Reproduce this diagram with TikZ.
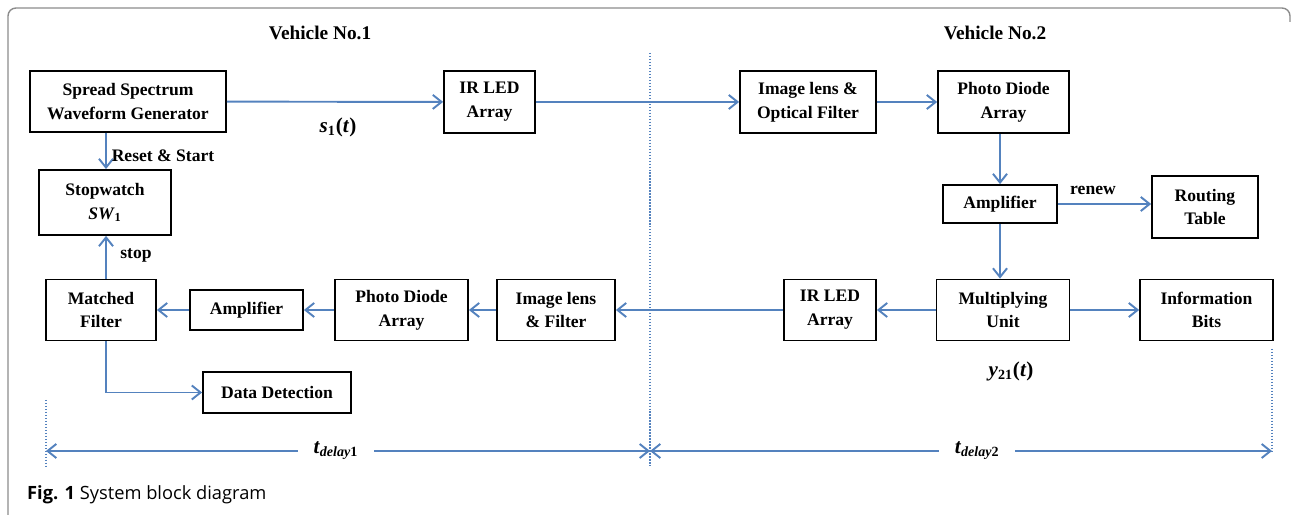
\documentclass[tikz,border=0pt]{standalone}
\usepackage{fontspec}
\setmainfont{Liberation Serif}
\newfontfamily\capfont{Open Sans}
\usepackage{xcolor}
\usetikzlibrary{positioning, arrows.meta, calc}

\definecolor{linkblue}{RGB}{84,130,190}
\definecolor{framegray}{RGB}{140,140,140}

\begin{document}
\begin{tikzpicture}[
    x=0.2mm, y=-0.2mm,
    >={Straight Barb[length=5pt,width=8pt]},
    block/.style={draw, line width=1pt, rectangle, align=center, inner sep=0pt, fill=white, font=\bfseries\fontsize{10}{13.5}\selectfont},
    flow/.style={draw=linkblue, line width=1.1pt, ->},
    guide/.style={draw=linkblue, densely dotted, line width=0.7pt},
    tag/.style={font=\bfseries\fontsize{10}{12}\selectfont},
    mathtag/.style={font=\bfseries\fontsize{12}{14}\selectfont}
]
    \useasboundingbox (0,0) rectangle (1292,515);

    % --- outer frame ---
    \draw[framegray, line width=0.8pt, rounded corners=1.6mm] (8,515) -- (8,8) -- (1290,8) -- (1290,22);

    % --- titles and guides ---
    \node[font=\bfseries\fontsize{11}{13}\selectfont] (veh1) at (320,33) {Vehicle No.1};
    \node[font=\bfseries\fontsize{11}{13}\selectfont] (veh2) at (995,33) {Vehicle No.2};
    \draw[guide] (650,53) -- (650,467);
    \draw[guide] (46,400) -- (46,467);
    \draw[guide] (1272,349) -- (1272,451);

    % --- VEHICLE 1: transmit side ---
    \node[block, minimum width=39.2mm, minimum height=12.2mm] (spread) at (128,101.5) {Spread Spectrum\\Waveform Generator};
    \node[block, minimum width=18.2mm, minimum height=12.4mm] (irA) at (489.5,102) {IR LED\\Array};
    \node[block, minimum width=26.4mm, minimum height=13mm] (stopw) at (105,202.5) {Stopwatch\\\textit{SW}\textsubscript{1}};
    \coordinate (col) at (106,0);

    % --- VEHICLE 2: receive side ---
    \node[block, minimum width=27.2mm, minimum height=12.4mm] (lensA) at (808,102) {Image lens \&\\Optical Filter};
    \node[block, minimum width=26.2mm, minimum height=12.4mm] (pdA) at (1003.5,102) {Photo Diode\\Array};
    \node[block, minimum width=22.8mm, minimum height=7.6mm] (ampA) at (1000,204) {Amplifier};
    \node[block, minimum width=21.2mm, minimum height=12.4mm] (route) at (1205,207) {Routing\\Table};
    \node[block, minimum width=26.6mm, minimum height=12.2mm] (mult) at (1003,310) {Multiplying\\Unit};
    \node[block, minimum width=26.6mm, minimum height=12.2mm] (info) at (1206.5,310) {Information\\Bits};
    \node[block, minimum width=18.4mm, minimum height=12.2mm] (irB) at (830,310) {IR LED\\Array};

    % --- VEHICLE 1: receive side ---
    \node[block, minimum width=23.6mm, minimum height=12.2mm] (lensB) at (556,310) {Image lens\\\& Filter};
    \node[block, minimum width=26.6mm, minimum height=12.2mm] (pdB) at (401.5,310) {Photo Diode\\Array};
    \node[block, minimum width=22.6mm, minimum height=8mm] (ampB) at (246.5,310) {Amplifier};
    \node[block, minimum width=22mm, minimum height=12.2mm] (matched) at (101,310) {Matched\\Filter};
    \node[block, minimum width=29.6mm, minimum height=8.2mm] (data) at (277,392.5) {Data Detection};

    % --- connections ---
    \draw[flow] (spread) -- (irA);
    \draw[flow] (irA) -- (lensA);
    \draw[flow] (lensA) -- (pdA);
    \draw[flow] (pdA.south -| ampA) -- (ampA);
    \draw[flow] (ampA.east) -- (ampA.east -| route.west);
    \draw[flow] (ampA.south) -- (ampA.south |- mult.north);
    \draw[flow] (mult) -- (info);
    \draw[flow] (mult) -- (irB);
    \draw[flow] (irB) -- (lensB);
    \draw[flow] (lensB) -- (pdB);
    \draw[flow] (pdB) -- (ampB);
    \draw[flow] (ampB) -- (matched);
    \draw[flow] (spread.south -| col) -- (stopw.north -| col);
    \draw[flow] (matched.north -| col) -- (stopw.south -| col);
    \draw[flow] (matched.south -| col) |- (data.west);

    % --- labels ---
    \node[mathtag] (s1) at (338,127) {\textit{s}\textsubscript{1}(\textit{t})};
    \node[tag] (reset) at (163,156) {Reset \& Start};
    \node[tag] (stop) at (136,255) {stop};
    \node[tag] (renew) at (1093,190) {renew};
    \node[mathtag] (y21) at (1011,371) {\textit{y}\textsubscript{21}(\textit{t})};

    % --- delay spans ---
    \coordinate (dimL) at (46,451);
    \coordinate (dimM) at (650,451);
    \coordinate (dimR) at (1272,451);
    \draw[flow, <->] (dimL) -- node[pos=0.48, fill=white, inner xsep=9pt, mathtag] {\textit{t}\textsubscript{\textit{delay}1}} (dimM);
    \draw[flow, <->] (dimM) -- node[pos=0.526, fill=white, inner xsep=9pt, mathtag] {\textit{t}\textsubscript{\textit{delay}2}} (dimR);

    % --- caption ---
    \node[anchor=west, font=\capfont\fontsize{10.4}{12.5}\selectfont] (caption) at (21,495) {\textbf{Fig. 1} System block diagram};

\end{tikzpicture}
\end{document}
